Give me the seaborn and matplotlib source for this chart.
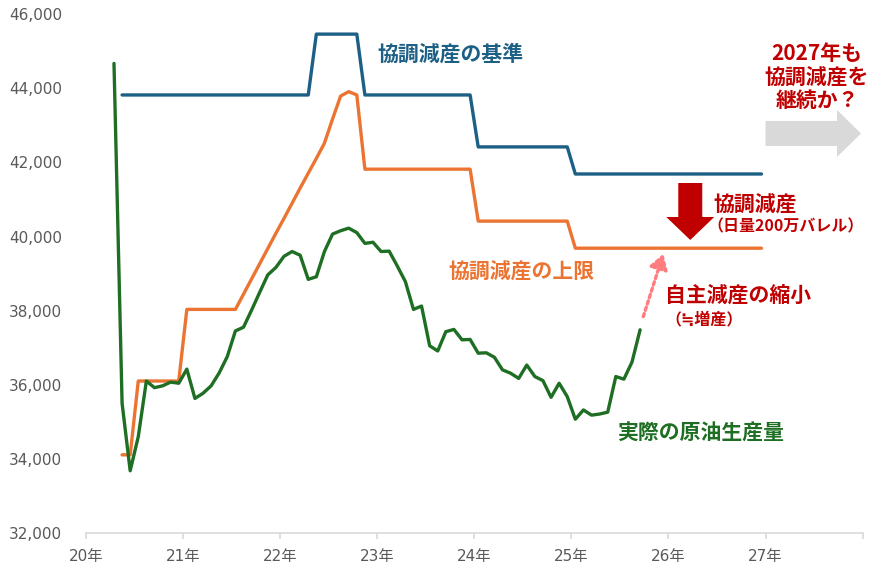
import pandas as pd
import matplotlib
matplotlib.use("Agg")
import matplotlib.pyplot as plt
from matplotlib.patches import FancyArrow
import seaborn as sns

sns.set_theme(style="white")
plt.rcParams["font.family"] = ["Noto Sans CJK JP", "DejaVu Sans"]

BLUE   = "#1C6085"
ORANGE = "#EC7432"
GREEN  = "#1E6E23"
RED    = "#C00000"
PINK   = "#FF7C80"
GREY   = "#D9D9D9"
TICK   = "#595959"

# ── Data (千バレル/日) ───────────────────────────────────
# 協調減産の基準 / 上限 : 2020-05 .. 2026-12 (monthly)
ref_months = pd.period_range("2020-05", "2026-12", freq="M")
baseline = ([43820] * 24 + [45460] * 6 + [43820] * 14 +
            [42420] * 12 + [41690] * 24)
upper_limit = ([34120] * 2 + [36110] * 6 + [38040] * 7 +
               [38450, 38860, 39270, 39680, 40090, 40490, 40900, 41310,
                41710, 42110, 42520, 43170, 43790, 43910, 43820] +
               [41820] * 14 + [40420] * 12 + [39690] * 24)

# 実際の原油生産量 : 2020-04 .. 2025-09
act_months = pd.period_range("2020-04", "2025-09", freq="M")
actual = [44670, 35510, 33690, 34610, 36110, 35930, 35980, 36080, 36050,   # 2020
          36430, 35640, 35780, 35980, 36330, 36770, 37460, 37560,          # 2021
          38020, 38500, 38970, 39170,
          39470, 39600, 39500, 38850, 38920, 39600, 40070, 40160,          # 2022
          40230, 40110, 39820, 39850,
          39600, 39610, 39210, 38790, 38040, 38130, 37060, 36920,          # 2023
          37440, 37500, 37220, 37230,
          36860, 36870, 36750, 36410, 36320, 36180, 36540, 36230,          # 2024
          36120, 35670, 36050, 35690,
          35080, 35330, 35190, 35220, 35270, 36230, 36160, 36620, 37490]   # 2025

years = list(range(2020, 2029))
year_labels = ["20年", "21年", "22年", "23年", "24年", "25年", "26年", "27年", ""]


def to_x(months):
    # plot each month at its mid point on a decimal-year axis
    return [p.year + (p.month - 0.5) / 12 for p in months]


ref = pd.DataFrame({"x": to_x(ref_months), "baseline": baseline,
                    "upper": upper_limit})
act = pd.DataFrame({"x": to_x(act_months), "actual": actual})

# ── Figure ───────────────────────────────────────────────
fig = plt.figure(figsize=(8.75, 5.75), dpi=100)
ax = fig.add_axes([0.0979, 0.0722, 0.888, 0.9033])

line_kw = dict(linewidth=2.4, solid_joinstyle="round", solid_capstyle="round")
sns.lineplot(data=ref, x="x", y="baseline", color=BLUE, ax=ax, **line_kw)
sns.lineplot(data=ref, x="x", y="upper", color=ORANGE, ax=ax, **line_kw)
sns.lineplot(data=act, x="x", y="actual", color=GREEN, ax=ax, **line_kw)

ax.set_xlim(2020, 2028)
ax.set_ylim(32000, 46000)
ax.set_xlabel("")
ax.set_ylabel("")
ax.set_xticks(years)
ax.set_xticklabels(year_labels)
ax.set_yticks(range(32000, 46001, 2000))
ax.yaxis.set_major_formatter(matplotlib.ticker.FuncFormatter(
    lambda v, _: f"{v:,.0f}"))

for side in ["top", "right", "left"]:
    ax.spines[side].set_visible(False)
ax.spines["bottom"].set_color(GREY)
ax.spines["bottom"].set_linewidth(1.2)
ax.tick_params(axis="x", bottom=True, direction="out", length=4,
               width=1.2, color=GREY, pad=7, labelsize=11, labelcolor=TICK)
ax.tick_params(axis="y", left=False, length=0, pad=17,
               labelsize=11, labelcolor=TICK)
for lab in ax.get_xticklabels() + ax.get_yticklabels():
    lab.set_family(["DejaVu Sans", "Noto Sans CJK JP"])

# ── Annotations ─────────────────────────────────────────
txt = dict(fontsize=15, fontweight="bold", va="center", ha="left")
ax.text(2023.0, 44920, "協調減産の基準", color=BLUE, **txt)
ax.text(2023.73, 39076, "協調減産の上限", color=ORANGE, **txt)
ax.text(2025.47, 34709, "実際の原油生産量", color=GREEN, **txt)
ax.text(2026.46, 40881, "協調減産", color=RED, **txt)
ax.text(2026.40, 40288, "（日量200万バレル）", color=RED, fontsize=11.5,
        fontweight="bold", va="center", ha="left")
ax.text(2025.97, 38429, "自主減産の縮小", color=RED, **txt)
ax.text(2025.97, 37782, "（≒増産）", color=RED, fontsize=11.5,
        fontweight="bold", va="center", ha="left")
ax.text(2027.53, 44305, "2027年も\n協調減産を\n継続か？", color=RED,
        fontsize=15, fontweight="bold", ha="center", va="center",
        linespacing=1.15)

# red block arrow (down)
ax.add_patch(FancyArrow(2026.225, 41447, 0, -1536, width=0.247,
                        head_width=0.494, head_length=620,
                        length_includes_head=True, color=RED, lw=0))
# grey block arrow (right)
ax.add_patch(FancyArrow(2027.0, 42782, 0.983, 0, width=674,
                        head_width=1267, head_length=0.247,
                        length_includes_head=True, color=GREY, lw=0,
                        clip_on=False))
# pink dotted arrow
ax.annotate("", xy=(2025.947, 39534), xytext=(2025.741, 37844),
            arrowprops=dict(arrowstyle="-|>,head_length=0.55,head_width=0.35",
                            color=PINK, lw=2.4, linestyle=(0, (1, 1)),
                            mutation_scale=16, shrinkA=0, shrinkB=0))

fig.savefig("out.png", dpi=100, facecolor="white")
